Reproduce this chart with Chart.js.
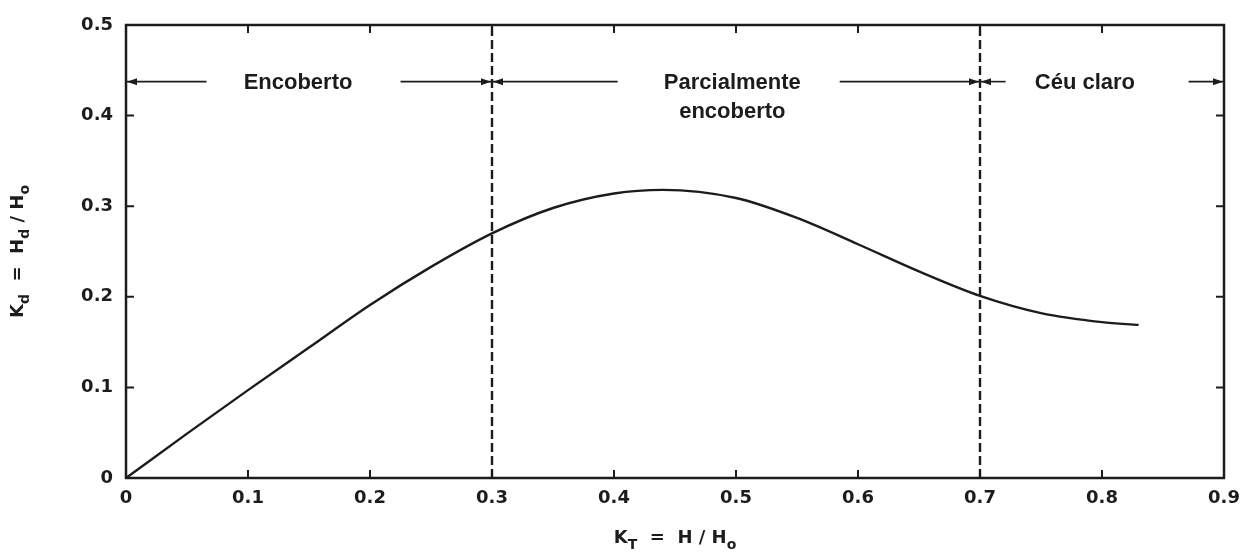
<!DOCTYPE html>
<html>
<head>
<meta charset="utf-8">
<script src="https://cdn.jsdelivr.net/npm/chart.js@4.4.0/dist/chart.umd.min.js"></script>
<style>
  body { margin: 0; background: #fff; }
  #wrap { width: 1242px; height: 556px; }
</style>
</head>
<body>
<div id="wrap"><canvas id="kd-chart" width="1242" height="556"></canvas></div>
<script>
// Kd = Hd/H0 as a function of KT = H/H0
const ktValues = [0, 0.05, 0.1, 0.15, 0.2, 0.25, 0.3, 0.35, 0.4, 0.44, 0.5, 0.55, 0.6, 0.65, 0.7, 0.75, 0.8, 0.83]
const kdValues = [0, 0.049, 0.097, 0.144, 0.191, 0.233, 0.27, 0.298, 0.314, 0.318, 0.309, 0.287, 0.258, 0.228, 0.201, 0.182, 0.172, 0.169]

// sky condition regions
const regionBounds = [0.3, 0.7]
const regionLabels = [['Encoberto'], ['Parcialmente', 'encoberto'], ['Céu claro']]
const regionLabelX = [0.141, 0.497, 0.786]
const arrowLevel = 0.4375
// [from, to] in KT units, arrow head drawn at "to"
const arrowSegments = [
  [0.066, 0], [0.225, 0.3],
  [0.403, 0.3], [0.585, 0.7],
  [0.721, 0.7], [0.871, 0.9]
]

const xTicks = [0, 0.1, 0.2, 0.3, 0.4, 0.5, 0.6, 0.7, 0.8, 0.9]
const yTicks = [0, 0.1, 0.2, 0.3, 0.4, 0.5]

const ink = '#1c1c1c'
const tickFont = { family: 'DejaVu Sans', size: 18, weight: 'bold' }
const fmt = v => v === 0 ? '0' : Number(v).toFixed(1)

// draws text pieces with subscripts, centred on (cx, cy)
function drawRichText(ctx, parts, cx, cy, size) {
  const big = `bold ${size}px "DejaVu Sans"`
  const small = `bold ${Math.round(size * 0.75)}px "DejaVu Sans"`
  let total = 0
  parts.forEach(p => {
    ctx.font = p.sub ? small : big
    total += ctx.measureText(p.t).width
  })
  let x = cx - total / 2
  ctx.textAlign = 'left'
  ctx.textBaseline = 'middle'
  parts.forEach(p => {
    ctx.font = p.sub ? small : big
    ctx.fillText(p.t, x, p.sub ? cy + size * 0.4 : cy)
    x += ctx.measureText(p.t).width
  })
}

const framePlugin = {
  id: 'frame',
  afterDatasetsDraw(chart) {
    const { ctx, chartArea: a, scales } = chart
    const xs = scales.x, ys = scales.y
    ctx.save()
    ctx.strokeStyle = ink
    ctx.fillStyle = ink

    // box
    ctx.lineWidth = 2.5
    ctx.strokeRect(a.left, a.top, a.right - a.left, a.bottom - a.top)

    // inside ticks
    ctx.lineWidth = 2
    ctx.beginPath()
    xTicks.slice(1, -1).forEach(v => {
      const px = xs.getPixelForValue(v)
      ctx.moveTo(px, a.bottom); ctx.lineTo(px, a.bottom - 8)
      ctx.moveTo(px, a.top); ctx.lineTo(px, a.top + 8)
    })
    yTicks.slice(1, -1).forEach(v => {
      const py = ys.getPixelForValue(v)
      ctx.moveTo(a.left, py); ctx.lineTo(a.left + 8, py)
      ctx.moveTo(a.right, py); ctx.lineTo(a.right - 8, py)
    })
    ctx.stroke()

    // arrows
    const ay = ys.getPixelForValue(arrowLevel)
    ctx.lineWidth = 1.6
    arrowSegments.forEach(([from, to]) => {
      const x0 = xs.getPixelForValue(from), x1 = xs.getPixelForValue(to)
      const dir = Math.sign(x1 - x0)
      ctx.beginPath()
      ctx.moveTo(x0, ay); ctx.lineTo(x1, ay)
      ctx.stroke()
      ctx.beginPath()
      ctx.moveTo(x1 - dir * 1, ay)
      ctx.lineTo(x1 - dir * 11, ay - 3.5)
      ctx.lineTo(x1 - dir * 11, ay + 3.5)
      ctx.closePath()
      ctx.fill()
    })

    // region labels
    ctx.font = 'bold 22px "Liberation Sans"'
    ctx.textAlign = 'center'
    ctx.textBaseline = 'middle'
    regionLabels.forEach((lines, i) => {
      const cx = xs.getPixelForValue(regionLabelX[i])
      lines.forEach((line, j) => ctx.fillText(line, cx, ay + 1 + j * 29))
    })

    // axis titles
    drawRichText(ctx,
      [{ t: 'K' }, { t: 'T', sub: true }, { t: '  =  H / H' }, { t: 'o', sub: true }],
      (a.left + a.right) / 2, 538, 18)
    ctx.translate(22, (a.top + a.bottom) / 2)
    ctx.rotate(-Math.PI / 2)
    drawRichText(ctx,
      [{ t: 'K' }, { t: 'd', sub: true }, { t: '  =  H' }, { t: 'd', sub: true }, { t: ' / H' }, { t: 'o', sub: true }],
      0, -4, 18)
    ctx.restore()
  }
}

const boundaryData = regionBounds.map(b => [{ x: b, y: 0 }, { x: b, y: 0.5 }])

const chart = new Chart(document.getElementById('kd-chart'), {
  type: 'scatter',
  data: {
    datasets: [
      {
        label: 'Kd',
        data: ktValues.map((x, i) => ({ x, y: kdValues[i] })),
        showLine: true,
        borderColor: ink,
        borderWidth: 2.4,
        pointRadius: 0,
        cubicInterpolationMode: 'monotone'
      },
      ...boundaryData.map(d => ({
        label: 'limite',
        data: d,
        showLine: true,
        borderColor: ink,
        borderWidth: 2.4,
        borderDash: [9, 4],
        pointRadius: 0
      }))
    ]
  },
  options: {
    responsive: false,
    animation: false,
    layout: { padding: { top: 25, right: 18, left: 0, bottom: 0 } },
    plugins: { legend: { display: false }, tooltip: { enabled: false } },
    scales: {
      x: {
        type: 'linear',
        min: 0, max: 0.9,
        afterFit: s => { s.height = 78; s.paddingLeft = 0; s.paddingRight = 0 },
        afterBuildTicks: s => { s.ticks = xTicks.map(v => ({ value: v })) },
        grid: { display: false, drawTicks: false },
        border: { display: false },
        ticks: { padding: 10, color: ink, font: tickFont, maxRotation: 0, callback: fmt }
      },
      y: {
        type: 'linear',
        min: 0, max: 0.5,
        afterFit: s => { s.width = 126; s.paddingTop = 0; s.paddingBottom = 0 },
        afterBuildTicks: s => { s.ticks = yTicks.map(v => ({ value: v })) },
        grid: { display: false, drawTicks: false },
        border: { display: false },
        ticks: { padding: 13, color: ink, font: tickFont, callback: fmt }
      }
    }
  },
  plugins: [framePlugin]
})
</script>
</body>
</html>
